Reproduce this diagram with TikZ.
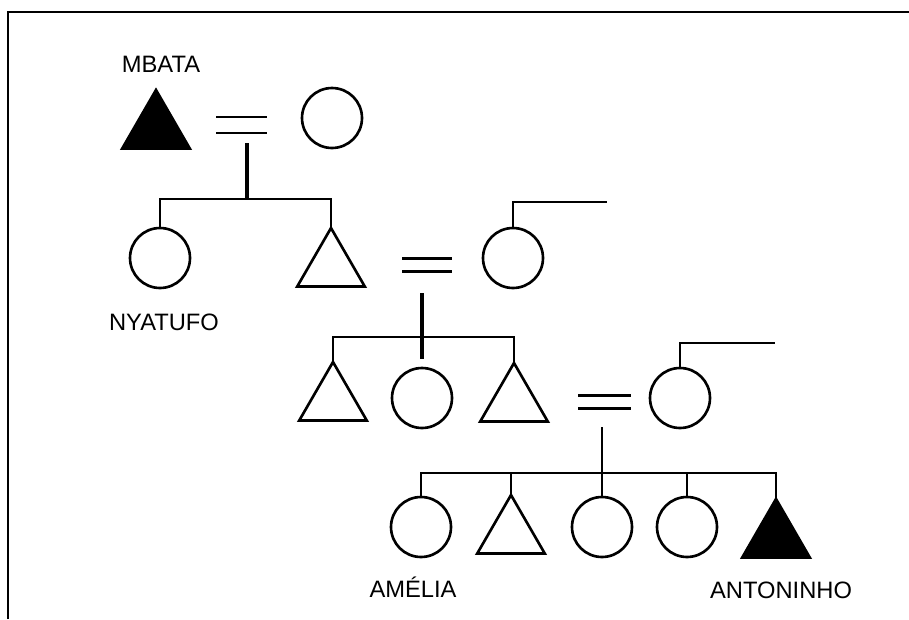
\documentclass[tikz,border=0pt]{standalone}
\usepackage{fontspec}
\setmainfont{Liberation Sans}
\usetikzlibrary{shapes.geometric}
\tikzset{
  male/.style={regular polygon,regular polygon sides=3,draw,line width=1.5pt,minimum size=1.56cm,inner sep=0pt,outer sep=0pt},
  female/.style={circle,draw,line width=1.5pt,minimum size=1.2cm,inner sep=0pt,outer sep=0pt},
  dead/.style={fill=black},
  kin/.style={line width=1.1pt},
  bold/.style={line width=2pt},
  lbl/.style={font=\fontsize{13.5}{16}\selectfont}
}
\begin{document}
\begin{tikzpicture}[x=0.02cm,y=-0.02cm]
\useasboundingbox (0,0) rectangle (909,619);
\draw[line width=1pt] (8,619) -- (8,12) -- (909,12);
% first generation
\node[male,dead] (mbata) at (156,129) {};
\node[female] (wife1) at (332,118) {};
\node[lbl] (lmbata) at (161,64) {MBATA};
\coordinate (m1) at (242,125);
\coordinate (sib1) at (247,199);
\draw[kin] (m1) ++(-26,-8) -- ++(51,0) (m1) ++(-26,8) -- ++(51,0);
\draw[bold] (m1 -| sib1) ++(0,18) -- (sib1);
% second generation
\node[female] (nyatufo) at (160,258) {};
\node[male] (son1) at (331,267) {};
\node[female] (wife2) at (513,258) {};
\node[lbl] (lnyatufo) at (164,322) {NYATUFO};
\coordinate (wife2out) at (607,202);
\draw[kin] (nyatufo.north) |- (sib1) -| (son1.north);
\draw[kin] (wife2.north) |- (wife2out);
\coordinate (m2) at (427,265);
\coordinate (sib2) at (422,337);
\draw[bold] (m2) ++(-25,-6.5) -- ++(50,0) (m2) ++(-25,6.5) -- ++(50,0);
% third generation
\node[male] (grandson1) at (333,401) {};
\node[female] (granddaughter) at (422,398) {};
\node[male] (grandson2) at (514,402) {};
\node[female] (wife3) at (680,398) {};
\coordinate (wife3out) at (775,343);
\draw[kin] (grandson1.north) |- (sib2) -| (grandson2.north);
\draw[bold,shorten >=5pt] (m2 -| sib2) ++(0,28) -- (granddaughter.north);
\draw[kin] (wife3.north) |- (wife3out);
\coordinate (m3) at (604,402);
\coordinate (sib3) at (602,473);
\draw[bold] (m3) ++(-26,-6.5) -- ++(53,0) (m3) ++(-26,6.5) -- ++(53,0);
% fourth generation
\node[female] (amelia) at (421,527) {};
\node[male] (boy4) at (511,534) {};
\node[female] (girl4a) at (602,527) {};
\node[female] (girl4b) at (687,527) {};
\node[male,dead] (antoninho) at (776,538) {};
\node[lbl] (lamelia) at (413,587) {AMÉLIA};
\node[lbl] (lantoninho) at (781,590) {ANTONINHO};
\draw[kin] (amelia.north) |- (sib3) -| (antoninho.north);
\draw[kin] (m3 -| sib3) ++(0,25) -- (girl4a.north);
\draw[kin] (boy4.north) -- (boy4.north |- sib3);
\draw[kin] (girl4b.north) -- (girl4b.north |- sib3);
\end{tikzpicture}
\end{document}
